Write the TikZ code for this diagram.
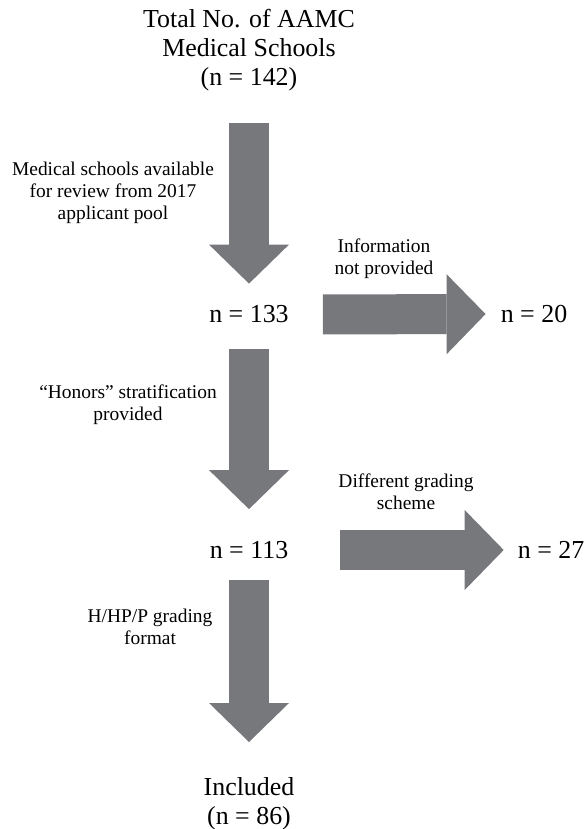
\documentclass[tikz,border=0pt]{standalone}
\usepackage{fontspec}
\setmainfont{Liberation Serif}
\usepackage{xcolor}
\usetikzlibrary{arrows.meta, positioning}
\definecolor{flowgray}{RGB}{119,120,124}

\begin{document}
\begin{tikzpicture}[
    x=1bp, y=-1bp,
    count/.style={inner sep=0pt, align=center, font=\fontsize{26}{29}\selectfont},
    reason/.style={inner sep=0pt, align=center, font=\fontsize{19.5}{22}\selectfont},
    flow/.style={draw=flowgray, line width=40bp,
        -{Triangle[width=80bp 0 0, length=39bp 0 0, line width=0pt 0 0, fill=flowgray]}},
]
    \useasboundingbox (0,0) rectangle (585,829);

    % Main column counts
    \node[count, anchor=north] (total) at (249,9) {Total No. of AAMC\\Medical Schools\\(n = 142)};
    \node[count] (n133) at (249,314.5) {n = 133};
    \node[count] (n113) at (249,550) {n = 113};
    \node[count, anchor=north] (incl) at (249,777) {Included\\(n = 86)};

    % Excluded counts
    \node[count] (n20) at (534,314) {n = 20};
    \node[count, anchor=east] (n27) at (584.5,550) {n = 27};

    % Step reasons
    \node[reason, anchor=north] (r1) at (113,162) {Medical schools available\\for review from 2017\\applicant pool};
    \node[reason, anchor=north] (r2) at (384,239) {Information\\not provided};
    \node[reason, anchor=north] (r3) at (128,385) {“Honors” stratification\\provided};
    \node[reason, anchor=north] (r4) at (406,474) {Different grading\\scheme};
    \node[reason, anchor=north] (r5) at (150,609) {H/HP/P grading\\format};

    % Downward flow
    \draw[flow, shorten <=32bp, shorten >=22bp] (total.south) -- (n133.north);
    \draw[flow, shorten <=26bp, shorten >=32bp] (n133.south) -- (n113.north);
    \draw[flow, shorten <=21bp, shorten >=35bp] (n113.south) -- (incl.north);

    % Exclusions
    \draw[flow, shorten <=34bp, shorten >=15bp] (n133.east) -- (n20.west);
    \draw[flow, shorten <=52bp, shorten >=14bp] (n113.east) -- (n27.west);
\end{tikzpicture}
\end{document}
